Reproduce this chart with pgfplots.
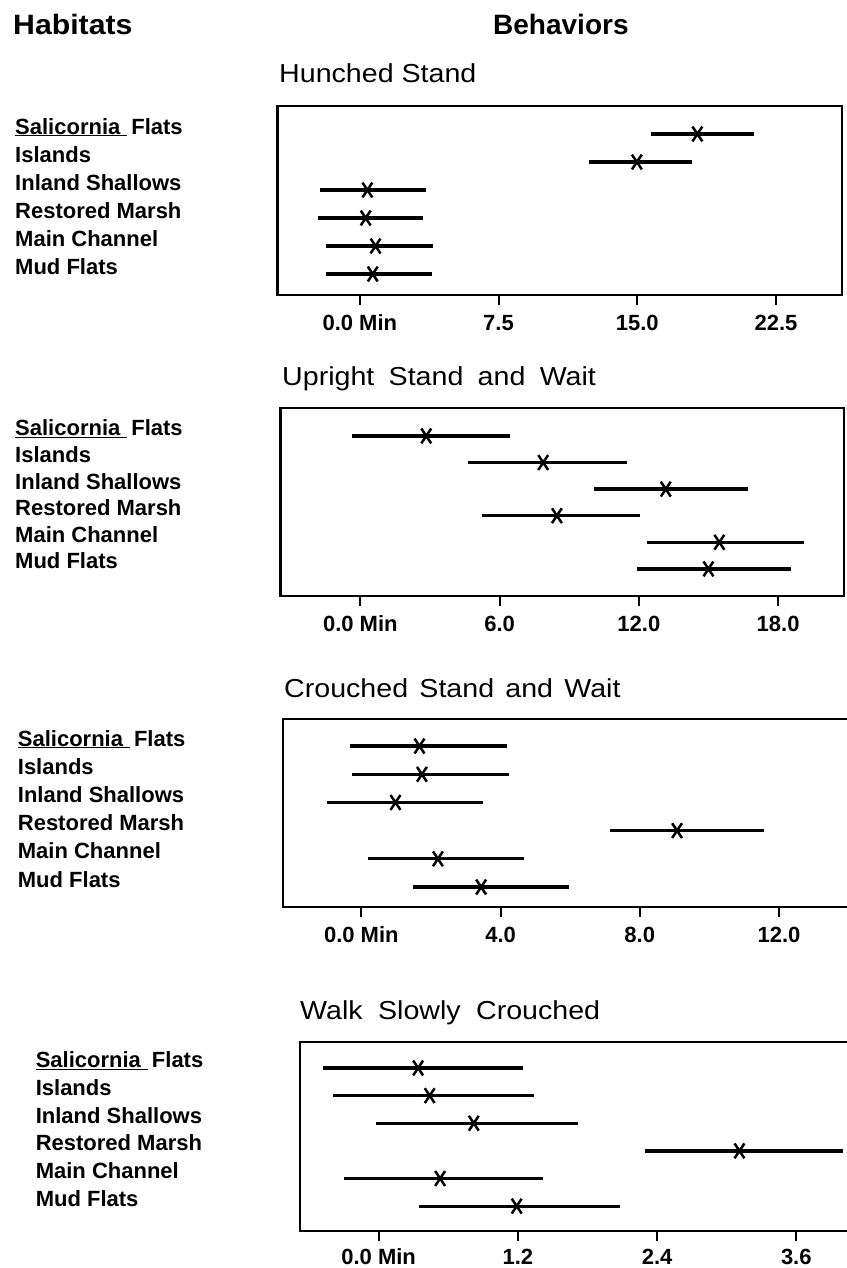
\documentclass[border=0pt]{standalone}
\usepackage{fontspec}
\setmainfont{Liberation Sans}
\usepackage{pgfplots}
\pgfplotsset{compat=1.18}

\newcommand\lbl{\bfseries\fontsize{22}{22}\selectfont}
\newcommand\ttl{\fontsize{26}{26}\selectfont}
\newcommand\hdr{\bfseries\fontsize{28}{28}\selectfont}

% habitat names, left of the box; #1 = distance from box edge
\newcommand\habitats[1]{%
  \node[lab, xshift=-#1pt] at ({axis cs:0,1} -| {rel axis cs:0,0}) {\underline{Salicornia\hspace{7pt}}\hspace{4pt}Flats};
  \node[lab, xshift=-#1pt] at ({axis cs:0,2} -| {rel axis cs:0,0}) {Islands};
  \node[lab, xshift=-#1pt] at ({axis cs:0,3} -| {rel axis cs:0,0}) {Inland Shallows};
  \node[lab, xshift=-#1pt] at ({axis cs:0,4} -| {rel axis cs:0,0}) {Restored Marsh};
  \node[lab, xshift=-#1pt] at ({axis cs:0,5} -| {rel axis cs:0,0}) {Main Channel};
  \node[lab, xshift=-#1pt] at ({axis cs:0,6} -| {rel axis cs:0,0}) {Mud Flats};
}

\pgfplotsset{
  panel/.style={
    scale only axis, clip=false, y dir=reverse,
    axis line style={line width=2.4pt},
    ytick=\empty, xtick pos=left, tick align=outside,
    major tick length=10pt, major tick style={line width=2pt, black},
    xticklabel style={font=\lbl, inner sep=0pt, text height=16pt, text depth=0pt, yshift=-9pt},
  },
  bars/.style={only marks, black, mark=x, mark size=7pt,
    mark options={yscale=1.5, line width=2.5pt},
    error bars/.cd, x dir=both, x explicit,
    error bar style={line width=3.3pt, black}, error mark=none},
}
\tikzset{lab/.style={anchor=base west, inner sep=0pt, font=\lbl}}

\begin{document}
\begin{tikzpicture}
\useasboundingbox (0pt,0pt) rectangle (846pt,-1268pt);

\node[anchor=base west, inner sep=0pt, font=\hdr] at (13pt,-35pt) {\scalebox{1.08}[1]{Habitats}};
\node[anchor=base west, inner sep=0pt, font=\hdr] at (493pt,-35pt) {Behaviors};

\node[anchor=base west, inner sep=0pt, font=\ttl] at (279pt,-83pt) {\scalebox{1.1}[1]{Hunched Stand}};
\node[anchor=base west, inner sep=0pt, font=\ttl] at (282pt,-385pt) {\scalebox{1.1}[1]{Upright\hspace{5.8pt} Stand\hspace{5.8pt} and\hspace{5.8pt} Wait}};
\node[anchor=base west, inner sep=0pt, font=\ttl] at (284pt,-697pt) {\scalebox{1.1}[1]{Crouched\hspace{3pt} Stand\hspace{3pt} and\hspace{3pt} Wait}};
\node[anchor=base west, inner sep=0pt, font=\ttl] at (300pt,-1019pt) {\scalebox{1.1}[1]{Walk\hspace{6.8pt} Slowly\hspace{6.8pt} Crouched}};

% Hunched Stand
\begin{axis}[panel, at={(277.5pt,-106pt)}, anchor=north west,
  width=564.5pt, height=189pt,
  xmin=-4.45, xmax=26.07, ymin=0, ymax=6.75,
  xtick={0,7.5,15,22.5}, xticklabels={0.0 Min,7.5,15.0,22.5}]
\addplot[bars] table[x=m, y=r,
  x error plus expr=\thisrow{h}-\thisrow{m},
  x error minus expr=\thisrow{m}-\thisrow{l}] {
r m     l      h
1 18.25 15.75  21.3
2 14.98 12.4   17.95
3 0.41  -2.16  3.56
4 0.32  -2.28  3.44
5 0.85  -1.81  3.94
6 0.70  -1.84  3.91
};
\habitats{262.5}
\end{axis}

% Upright Stand and Wait
\begin{axis}[panel, at={(280.5pt,-408pt)}, anchor=north west,
  width=563.5pt, height=188pt,
  xmin=-3.44, xmax=20.84, ymin=-0.05, ymax=7.02,
  xtick={0,6,12,18}, xticklabels={0.0 Min,6.0,12.0,18.0}]
\addplot[bars] table[x=m, y=r,
  x error plus expr=\thisrow{h}-\thisrow{m},
  x error minus expr=\thisrow{m}-\thisrow{l}] {
r m     l      h
1 2.84  -0.37  6.44
2 7.88  4.65   11.51
3 13.16 10.05  16.70
4 8.47  5.23   12.07
5 15.47 12.37  19.10
6 15.00 11.91  18.55
};
\habitats{265.5}
\end{axis}

% Crouched Stand and Wait
\begin{axis}[panel, at={(282.7pt,-719pt)}, anchor=north west,
  width=567.3pt, height=188pt,
  xmin=-2.26, xmax=14.04, ymin=0.04, ymax=6.71,
  xtick={0,4,8,12}, xticklabels={0.0 Min,4.0,8.0,12.0}]
\addplot[bars] table[x=m, y=r,
  x error plus expr=\thisrow{h}-\thisrow{m},
  x error minus expr=\thisrow{m}-\thisrow{l}] {
r m     l      h
1 1.67  -0.34  4.19
2 1.74  -0.28  4.25
3 0.98  -1.00  3.49
4 9.07  7.13   11.57
5 2.20  0.19   4.68
6 3.44  1.49   5.98
};
\habitats{265}
\end{axis}

% Walk Slowly Crouched
\begin{axis}[panel, at={(300pt,-1042pt)}, anchor=north west,
  width=550pt, height=189pt,
  xmin=-0.678, xmax=4.063, ymin=0.06, ymax=6.9,
  xtick={0,1.2,2.4,3.6}, xticklabels={0.0 Min,1.2,2.4,3.6},
  xticklabel style={yshift=2pt}]
\addplot[bars] table[x=m, y=r,
  x error plus expr=\thisrow{h}-\thisrow{m},
  x error minus expr=\thisrow{m}-\thisrow{l}] {
r m     l      h
1 0.34  -0.48  1.24
2 0.44  -0.39  1.34
3 0.82  -0.02  1.72
4 3.11  2.30   4.00
5 0.53  -0.30  1.42
6 1.19  0.35   2.08
};
\habitats{264.4}
\end{axis}
\end{tikzpicture}
\end{document}
